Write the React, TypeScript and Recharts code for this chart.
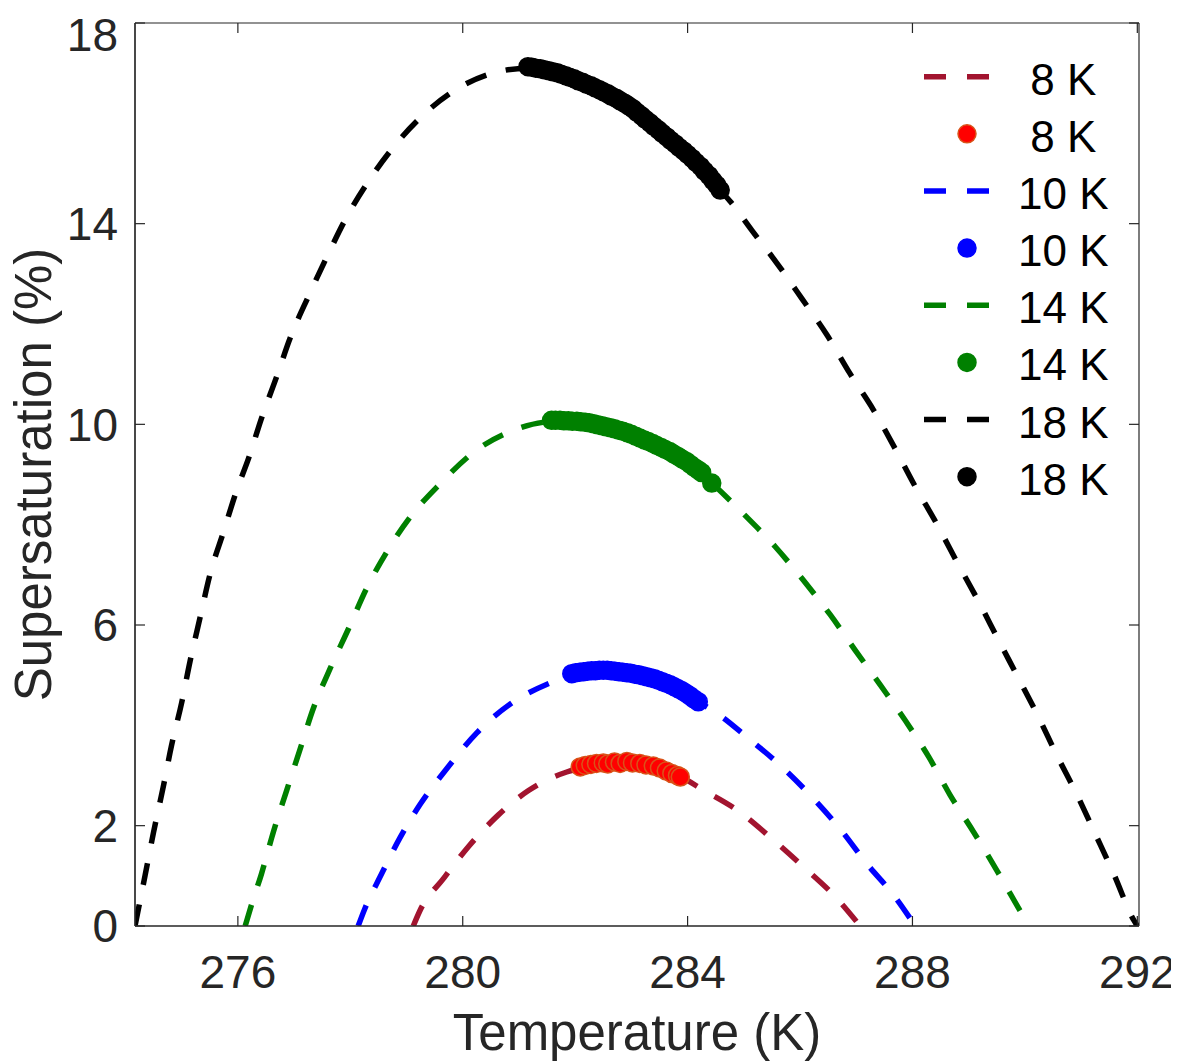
import React from 'react';
import { ComposedChart, Line, Scatter, XAxis, YAxis } from 'recharts';

const xTicks = [276, 280, 284, 288, 292];
const yTicks = [0, 2, 6, 10, 14, 18];
const xDomain: [number, number] = [274.17, 292.03];
const yDomain: [number, number] = [0, 18];

// dashed model curves (temperature K, supersaturation %)
const curve8T = [279.12, 279.24, 279.66, 280.10, 280.63, 281.17, 281.85, 282.40, 282.92, 283.39, 283.87, 284.28, 284.88, 285.50, 286.06, 286.63, 287.07];
const curve8S = [0, 0.31, 0.95, 1.58, 2.21, 2.70, 3.07, 3.20, 3.23, 3.17, 2.98, 2.71, 2.31, 1.74, 1.18, 0.58, 0];

const curve10T = [278.14, 278.26, 278.53, 278.89, 279.24, 279.69, 280.25, 280.84, 281.52, 281.94, 282.56, 283.39, 284.19, 284.61, 285.05, 285.65, 286.18, 286.71, 287.19, 287.69, 288.05];
const curve10S = [0, 0.35, 0.98, 1.77, 2.42, 3.10, 3.85, 4.42, 4.83, 5.00, 5.08, 4.92, 4.47, 4.17, 3.77, 3.20, 2.61, 1.94, 1.24, 0.58, 0];

const curve14T = [276.13, 276.25, 276.42, 276.63, 276.87, 277.10, 277.34, 277.64, 277.97, 278.29, 278.65, 279.09, 279.54, 280.25, 280.90, 281.58, 282.50, 283.39, 283.99, 284.43, 284.99, 285.56, 286.06, 286.54, 286.98, 287.43, 287.87, 288.29, 288.67, 289.09, 289.50, 289.89, 290.07];
const curve14S = [0, 0.45, 1.04, 1.87, 2.71, 3.50, 4.33, 5.13, 5.93, 6.73, 7.46, 8.19, 8.75, 9.49, 9.88, 10.05, 9.95, 9.62, 9.25, 8.83, 8.22, 7.56, 6.89, 6.20, 5.50, 4.80, 4.10, 3.37, 2.61, 1.87, 1.11, 0.35, 0];

const curve18T = [274.17, 274.35, 274.50, 274.67, 274.82, 275.00, 275.15, 275.33, 275.50, 275.74, 275.98, 276.19, 276.42, 276.69, 276.93, 277.25, 277.58, 277.91, 278.32, 278.77, 279.30, 279.92, 280.63, 281.16, 282.44, 283.33, 283.99, 284.58, 284.76, 285.14, 285.59, 286.03, 286.48, 286.89, 287.31, 287.69, 288.02, 288.43, 288.79, 289.18, 289.53, 289.89, 290.24, 290.57, 290.93, 291.25, 291.58, 291.94, 292.00];
const curve18S = [0, 1.01, 1.87, 2.76, 3.60, 4.45, 5.28, 6.16, 6.99, 7.84, 8.69, 9.32, 10.12, 10.95, 11.72, 12.54, 13.33, 14.08, 14.84, 15.53, 16.17, 16.70, 17.03, 17.10, 16.66, 16.00, 15.40, 14.67, 14.44, 13.87, 13.21, 12.51, 11.78, 11.01, 10.28, 9.52, 8.82, 8.02, 7.26, 6.46, 5.70, 4.93, 4.17, 3.40, 2.61, 1.84, 1.04, 0.11, 0];

// measured points
const pts8T = [282.09, 282.18, 282.28, 282.38, 282.50, 282.58, 282.70, 282.80, 282.92, 283.02, 283.15, 283.26, 283.39, 283.50, 283.62, 283.72, 283.82, 283.87];
const pts8S = [3.17, 3.20, 3.22, 3.24, 3.25, 3.23, 3.27, 3.24, 3.28, 3.25, 3.24, 3.21, 3.19, 3.15, 3.09, 3.04, 3.00, 2.97];

const pts10T = [281.94, 282.01, 282.08, 282.15, 282.22, 282.29, 282.36, 282.43, 282.50, 282.57, 282.64, 282.71, 282.78, 282.85, 282.92, 282.99, 283.06, 283.13, 283.20, 283.27, 283.34, 283.41, 283.48, 283.55, 283.62, 283.69, 283.76, 283.83, 283.90, 283.97, 284.04, 284.11, 284.19];
const pts10S = [5.03, 5.05, 5.06, 5.07, 5.08, 5.09, 5.09, 5.10, 5.10, 5.10, 5.09, 5.08, 5.07, 5.06, 5.05, 5.04, 5.02, 5.01, 4.99, 4.97, 4.95, 4.93, 4.90, 4.87, 4.84, 4.81, 4.77, 4.73, 4.69, 4.64, 4.59, 4.53, 4.47];

const pts14T = [281.58, 281.65, 281.73, 281.80, 281.88, 281.95, 282.03, 282.10, 282.18, 282.25, 282.33, 282.40, 282.48, 282.55, 282.63, 282.70, 282.78, 282.85, 282.93, 283.00, 283.08, 283.15, 283.23, 283.30, 283.38, 283.45, 283.53, 283.60, 283.68, 283.75, 283.83, 283.90, 283.98, 284.05, 284.12, 284.19, 284.25, 284.43];
const pts14S = [10.08, 10.08, 10.08, 10.07, 10.07, 10.06, 10.06, 10.05, 10.04, 10.03, 10.01, 9.99, 9.97, 9.95, 9.93, 9.91, 9.88, 9.86, 9.83, 9.80, 9.76, 9.73, 9.69, 9.66, 9.62, 9.58, 9.54, 9.50, 9.46, 9.41, 9.36, 9.31, 9.26, 9.20, 9.14, 9.09, 9.04, 8.83];

const pts18T = [281.16, 281.23, 281.30, 281.38, 281.45, 281.53, 281.60, 281.68, 281.75, 281.83, 281.90, 281.98, 282.05, 282.13, 282.20, 282.28, 282.35, 282.43, 282.50, 282.58, 282.65, 282.73, 282.80, 282.88, 282.95, 283.03, 283.10, 283.18, 283.25, 283.33, 283.40, 283.48, 283.55, 283.63, 283.70, 283.78, 283.85, 283.93, 284.00, 284.08, 284.15, 284.23, 284.30, 284.38, 284.45, 284.52, 284.58];
const pts18S = [17.13, 17.12, 17.10, 17.09, 17.07, 17.05, 17.03, 17.01, 16.98, 16.95, 16.92, 16.89, 16.85, 16.82, 16.78, 16.75, 16.71, 16.67, 16.63, 16.59, 16.54, 16.50, 16.45, 16.40, 16.35, 16.29, 16.22, 16.15, 16.08, 16.01, 15.94, 15.87, 15.80, 15.73, 15.66, 15.59, 15.52, 15.45, 15.38, 15.30, 15.22, 15.14, 15.05, 14.96, 14.86, 14.77, 14.67];

const legendLabels = [' 8 K', ' 8 K', '10 K', '10 K', '14 K', '14 K', '18 K', '18 K'];
const legendKinds = ['line', 'dot', 'line', 'dot', 'line', 'dot', 'line', 'dot'];
const legendColors = ['#A2142F', '#FF0000', '#0000FF', '#0000FF', '#008000', '#008000', '#000000', '#000000'];
const legendEdges = ['#A2142F', '#D95319', '#0000FF', '#0000FF', '#008000', '#008000', '#000000', '#000000'];

const zip = (t: number[], s: number[]) => t.map((x, i) => ({ x, y: s[i] }));

const FONT = '"Liberation Sans", Arial, Helvetica, sans-serif';
const AXIS = '#262626';
const DASH = '22 20';
const LW = 5.5;

const dotShape = (fill: string, stroke: string) => (p: any) => (
  <circle cx={p.cx} cy={p.cy} r={9} fill={fill} stroke={stroke} strokeWidth={1.5} />
);

const NoTick = () => <g />;

function LegendBox() {
  return (
    <g>
      {legendLabels.map((lab, i) => {
        const cy = 68.7 + i * 57.14;
        return (
          <g key={i}>
            {legendKinds[i] === 'line' ? (
              <line x1={916} x2={1001} y1={cy} y2={cy} stroke={legendColors[i]} strokeWidth={LW} strokeDasharray="22 21" />
            ) : (
              <circle cx={959} cy={cy} r={9} fill={legendColors[i]} stroke={legendEdges[i]} strokeWidth={1.5} />
            )}
            <text x={1010} y={cy + 18} fontSize={44} fontFamily={FONT} fill="#000" style={{ whiteSpace: 'pre' }} xmlSpace="preserve">
              {lab}
            </text>
          </g>
        );
      })}
    </g>
  );
}

const XLabel = (props: any) => {
  const vb = props.viewBox || { x: 127, y: 918, width: 1004, height: 135 };
  return (
    <text x={vb.x + vb.width / 2} y={vb.y + vb.height - 11} textAnchor="middle" fontSize={51} fontFamily={FONT} fill={AXIS}>
      Temperature (K)
    </text>
  );
};

const YLabel = (props: any) => {
  const vb = props.viewBox || { x: 0, y: 15, width: 127, height: 903 };
  const cx = vb.x + 43;
  const cy = vb.y + vb.height / 2;
  return (
    <text x={cx} y={cy} transform={`rotate(-90, ${cx}, ${cy})`} textAnchor="middle" fontSize={51} fontFamily={FONT} fill={AXIS}>
      Supersaturation (%)
    </text>
  );
};

export default function App() {
  const tickStyle = { fontSize: 46, fill: AXIS, fontFamily: FONT };
  const frame = { stroke: AXIS, strokeWidth: 1.2 };
  return (
    <div>
      <style>{`body{overflow:hidden;} .recharts-surface{overflow:visible;}`}</style>
      <ComposedChart width={1171} height={1053} margin={{ top: 15, right: 40, bottom: 0, left: 0 }}>
        <XAxis
          dataKey="x"
          type="number"
          domain={xDomain}
          ticks={xTicks}
          allowDataOverflow
          height={135}
          tickLine={false}
          tickSize={0}
          tickMargin={29}
          axisLine={frame}
          tick={tickStyle}
          label={<XLabel />}
        />
        <XAxis xAxisId="bm" dataKey="x" type="number" orientation="bottom" mirror domain={xDomain} ticks={xTicks} allowDataOverflow height={12} tick={NoTick} tickSize={10} tickLine={{ stroke: AXIS, strokeWidth: 1.2 }} axisLine={frame} />
        <XAxis xAxisId="tp" dataKey="x" type="number" orientation="top" mirror domain={xDomain} ticks={xTicks} allowDataOverflow height={12} tick={NoTick} tickSize={10} tickLine={{ stroke: AXIS, strokeWidth: 1.2 }} axisLine={frame} />
        <YAxis
          dataKey="y"
          type="number"
          domain={yDomain}
          ticks={yTicks}
          allowDataOverflow
          width={127}
          tickLine={false}
          tickSize={0}
          tickMargin={17}
          axisLine={frame}
          tick={tickStyle}
          label={<YLabel />}
        />
        <YAxis yAxisId="lm" dataKey="y" type="number" orientation="left" mirror domain={yDomain} ticks={yTicks} allowDataOverflow width={12} tick={NoTick} tickSize={10} tickLine={{ stroke: AXIS, strokeWidth: 1.2 }} axisLine={frame} />
        <YAxis yAxisId="rm" dataKey="y" type="number" orientation="right" mirror domain={yDomain} ticks={yTicks} allowDataOverflow width={12} tick={NoTick} tickSize={10} tickLine={{ stroke: AXIS, strokeWidth: 1.2 }} axisLine={frame} />

        <Line data={zip(curve8T, curve8S)} dataKey="y" type="monotone" stroke="#A2142F" strokeWidth={LW} strokeDasharray={DASH} dot={false} activeDot={false} isAnimationActive={false} />
        <Scatter data={zip(pts8T, pts8S)} dataKey="y" shape={dotShape('#FF0000', '#D95319')} isAnimationActive={false} />
        <Line data={zip(curve10T, curve10S)} dataKey="y" type="monotone" stroke="#0000FF" strokeWidth={LW} strokeDasharray={DASH} dot={false} activeDot={false} isAnimationActive={false} />
        <Scatter data={zip(pts10T, pts10S)} dataKey="y" shape={dotShape('#0000FF', '#0000FF')} isAnimationActive={false} />
        <Line data={zip(curve14T, curve14S)} dataKey="y" type="monotone" stroke="#008000" strokeWidth={LW} strokeDasharray={DASH} dot={false} activeDot={false} isAnimationActive={false} />
        <Scatter data={zip(pts14T, pts14S)} dataKey="y" shape={dotShape('#008000', '#008000')} isAnimationActive={false} />
        <Line data={zip(curve18T, curve18S)} dataKey="y" type="monotone" stroke="#000000" strokeWidth={LW} strokeDasharray={DASH} dot={false} activeDot={false} isAnimationActive={false} />
        <Scatter data={zip(pts18T, pts18S)} dataKey="y" shape={dotShape('#000000', '#000000')} isAnimationActive={false} />
        <LegendBox />
      </ComposedChart>
    </div>
  );
}
